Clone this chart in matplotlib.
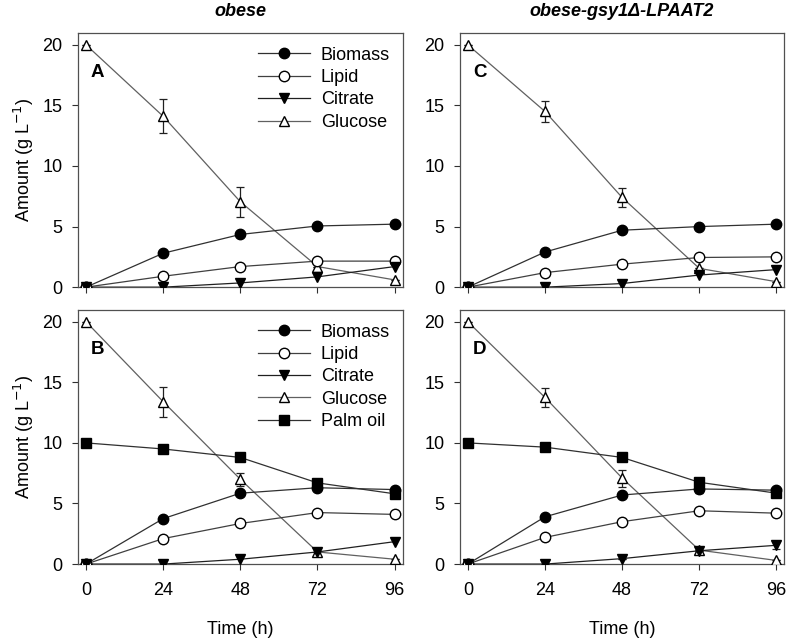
import matplotlib.pyplot as plt
from matplotlib.lines import Line2D

plt.rcParams['font.family'] = ['Liberation Sans', 'DejaVu Sans']
plt.rcParams['font.size'] = 12

tiempo = [0, 24, 48, 72, 96]

# Panel A: obese, glucose only
a_biomasa = [0, 2.8, 4.35, 5.05, 5.2]
a_lipido = [0, 0.9, 1.7, 2.15, 2.15]
a_citrato = [0, 0, 0.35, 0.85, 1.7]
a_glucosa = [20, 14.1, 7.05, 1.7, 0.6]
a_glucosa_err = [0, 1.4, 1.25, 0, 0]

# Panel C: obese-gsy1Δ-LPAAT2, glucose only
c_biomasa = [0, 2.9, 4.7, 5.0, 5.2]
c_lipido = [0, 1.2, 1.9, 2.45, 2.5]
c_citrato = [0, 0, 0.3, 1.0, 1.45]
c_glucosa = [20, 14.5, 7.4, 1.55, 0.45]
c_glucosa_err = [0, 0.9, 0.8, 0, 0]

# Panel B: obese, glucose + palm oil
b_biomasa = [0, 3.75, 5.85, 6.3, 6.15]
b_lipido = [0, 2.1, 3.35, 4.25, 4.1]
b_citrato = [0, 0, 0.4, 1.0, 1.85]
b_glucosa = [20, 13.4, 7.0, 1.0, 0.4]
b_glucosa_err = [0, 1.25, 0.55, 0, 0]
b_palma = [10, 9.5, 8.8, 6.7, 5.8]

# Panel D: obese-gsy1Δ-LPAAT2, glucose + palm oil
d_biomasa = [0, 3.9, 5.7, 6.2, 6.1]
d_biomasa_err = [0, 0, 0, 0.3, 0]
d_lipido = [0, 2.2, 3.5, 4.4, 4.2]
d_citrato = [0, 0, 0.45, 1.1, 1.55]
d_citrato_err = [0, 0, 0, 0, 0.3]
d_glucosa = [20, 13.75, 7.1, 1.15, 0.3]
d_glucosa_err = [0, 0.8, 0.7, 0, 0]
d_palma = [10, 9.65, 8.8, 6.75, 5.85]

ms = 7.5
lw = 0.9

# estilos: (marcador, color linea, relleno)
estilos = {
    'Biomass': ('o', '#303030', 'black'),
    'Lipid': ('o', '#404040', 'white'),
    'Citrate': ('v', '#202020', 'black'),
    'Glucose': ('^', '#606060', 'white'),
    'Palm oil': ('s', '#303030', 'black'),
}


def dibujar(ax, series):
    for nombre, valores, err, z in series:
        m, c, f = estilos[nombre]
        ax.errorbar(tiempo, valores, yerr=err, marker=m, color=c,
                    markerfacecolor=f, markeredgecolor='black', markersize=ms,
                    lw=lw, capsize=3, elinewidth=0.9, capthick=0.9,
                    ecolor='#202020', zorder=z)
    ax.set_xlim(-2.5, 98.5)
    ax.set_ylim(0, 21)
    ax.set_xticks(tiempo)
    ax.set_yticks([0, 5, 10, 15, 20])
    ax.tick_params(direction='out', length=4, width=0.8, colors='#303030',
                   labelcolor='black', labelsize=13)
    ax.tick_params(axis='x', pad=9)
    ax.tick_params(axis='y', pad=7)
    for s in ax.spines.values():
        s.set_color('#505050')
        s.set_linewidth(0.9)


def leyenda(ax, nombres):
    handles = []
    for n in nombres:
        m, c, f = estilos[n]
        handles.append(Line2D([], [], marker=m, color=c, markerfacecolor=f,
                              markeredgecolor='black', markersize=ms, lw=lw))
    ax.legend(handles, nombres, loc='upper right', frameon=False, fontsize=13,
              handlelength=2.9, borderaxespad=0.3, labelspacing=0.3,
              handletextpad=0.6, bbox_to_anchor=(1.0, 0.995))


fig = plt.figure(figsize=(7.9, 6.41), dpi=100)
w, h = 0.411, 0.397
axA = fig.add_axes([0.0987, 0.552, w, h])
axC = fig.add_axes([0.582, 0.552, w, h])
axB = fig.add_axes([0.0987, 0.120, w, h])
axD = fig.add_axes([0.582, 0.120, w, h])

dibujar(axA, [('Glucose', a_glucosa, a_glucosa_err, 3),
              ('Biomass', a_biomasa, None, 4),
              ('Lipid', a_lipido, None, 4),
              ('Citrate', a_citrato, None, 4)])
dibujar(axC, [('Glucose', c_glucosa, c_glucosa_err, 3),
              ('Biomass', c_biomasa, None, 4),
              ('Lipid', c_lipido, None, 4),
              ('Citrate', c_citrato, None, 4)])
dibujar(axB, [('Glucose', b_glucosa, b_glucosa_err, 3),
              ('Palm oil', b_palma, None, 4),
              ('Biomass', b_biomasa, None, 4),
              ('Lipid', b_lipido, None, 4),
              ('Citrate', b_citrato, None, 4)])
dibujar(axD, [('Glucose', d_glucosa, d_glucosa_err, 3),
              ('Palm oil', d_palma, None, 4),
              ('Biomass', d_biomasa, d_biomasa_err, 4),
              ('Lipid', d_lipido, None, 4),
              ('Citrate', d_citrato, d_citrato_err, 4)])

leyenda(axA, ['Biomass', 'Lipid', 'Citrate', 'Glucose'])
leyenda(axB, ['Biomass', 'Lipid', 'Citrate', 'Glucose', 'Palm oil'])

for ax in (axA, axC):
    ax.set_xticklabels([])
for ax in (axB, axD):
    ax.set_xlabel('Time (h)', fontsize=13, labelpad=16)
for ax in (axA, axB):
    ax.set_ylabel('Amount (g L$^{-1}$)', fontsize=13, labelpad=5)

for ax, letra in zip((axA, axC, axB, axD), 'ACBD'):
    ax.text(0.04, 0.845, letra, transform=ax.transAxes, fontsize=13.5,
            fontweight='bold', va='center')

axA.set_title('obese', fontsize=13, fontweight='bold', style='italic', pad=12)
axC.set_title('obese-gsy1Δ-LPAAT2', fontsize=13, fontweight='bold',
              style='italic', pad=12)

fig.savefig('out.png', dpi=100)
